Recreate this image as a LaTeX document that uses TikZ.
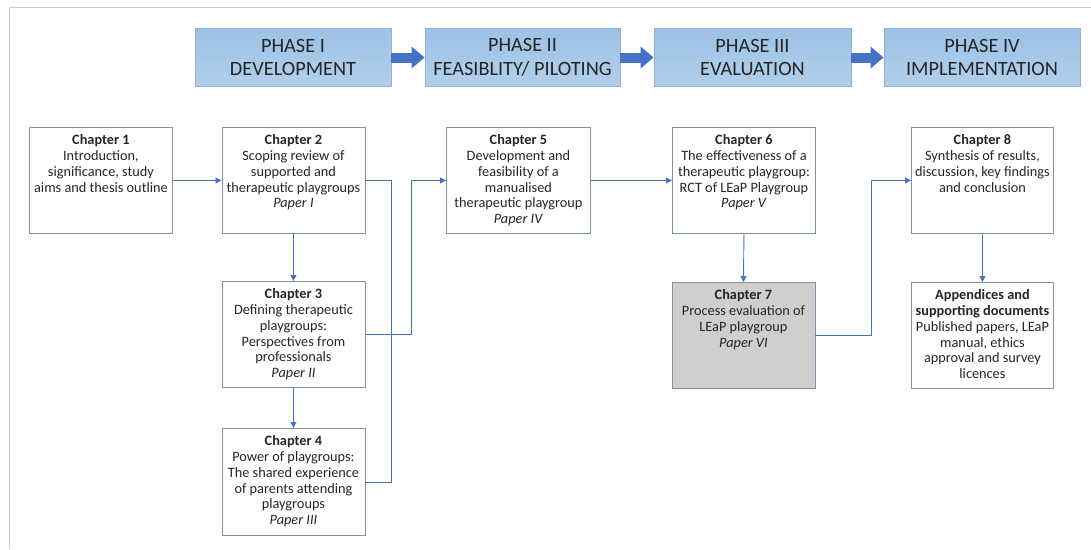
\documentclass[tikz,border=0pt]{standalone}
\usepackage{fontspec}
\setmainfont{Carlito}
\usetikzlibrary{arrows.meta}
\definecolor{phasetop}{HTML}{9CC2E5}
\definecolor{phasebot}{HTML}{B2CFEB}
\definecolor{phaseedge}{HTML}{8FB2D9}
\definecolor{blockarrow}{HTML}{4472C4}
\definecolor{chapedge}{HTML}{8291A8}
\definecolor{linkblue}{HTML}{4A74B8}
\definecolor{shadegray}{HTML}{D0CECE}
\definecolor{framegray}{HTML}{CACACA}
\definecolor{inktext}{HTML}{262626}
% chapter box body: fixed size, text hung from the top edge
\newcommand{\chaptext}[3]{\parbox[c][#2pt][t]{#1pt}{\centering\rule{0pt}{17.5pt}#3}}
\begin{document}
\begin{tikzpicture}[x=1pt,y=-1pt,
  phase/.style={draw=phaseedge, line width=0.8pt, top color=phasetop, bottom color=phasebot,
    minimum height=58pt, inner sep=0pt, align=center, text=inktext,
    font=\fontsize{20.3}{23.5}\selectfont},
  chapbox/.style={draw=chapedge, line width=0.9pt, fill=white, inner sep=0pt, anchor=north west,
    text=inktext, font=\fontsize{14.3}{15.75}\selectfont},
  blockarr/.style={draw=blockarrow, line width=10pt, -{Triangle[length=13pt,width=21pt]}},
  conn/.style={draw=linkblue, line width=0.9pt},
  tipped/.style={conn, -{Triangle[length=6pt,width=6pt]}}]
\useasboundingbox (0,0) rectangle (1091,549);
% page frame
\draw[framegray, line width=1.5pt] (1091,7.5) -- (9.5,7.5) -- (9.5,549);

% phase banner
\node[phase, minimum width=196pt] (p1) at (293,57.5) {PHASE I\\DEVELOPMENT};
\node[phase, minimum width=195pt] (p2) at (522.5,57.5) {PHASE II\\FEASIBLITY/ PILOTING};
\node[phase, minimum width=197pt] (p3) at (752.5,57.5) {PHASE III\\EVALUATION};
\node[phase, minimum width=196pt] (p4) at (982,57.5) {PHASE IV\\IMPLEMENTATION};
\draw[blockarr] (p1.east) -- (p2.west);
\draw[blockarr] (p2.east) -- (p3.west);
\draw[blockarr] (p3.east) -- (p4.west);

% chapters
\node[chapbox] (c1) at (29,127) {\chaptext{143}{106}{\textbf{Chapter 1}\\Introduction,\\significance, study\\aims and thesis outline}};
\node[chapbox] (c2) at (221.5,127) {\chaptext{143}{106}{\textbf{Chapter 2}\\Scoping review of\\supported and\\therapeutic playgroups\\\textit{Paper I}}};
\node[chapbox] (c3) at (221.5,281) {\chaptext{143}{106}{\textbf{Chapter 3}\\Defining therapeutic\\playgroups:\\Perspectives from\\professionals\\\textit{Paper II}}};
\node[chapbox] (c4) at (221.5,428) {\chaptext{143}{107}{\textbf{Chapter 4}\\Power of playgroups:\\The shared experience\\of parents attending\\playgroups\\\textit{Paper III}}};
\node[chapbox] (c5) at (446,127) {\chaptext{144}{106}{\textbf{Chapter 5}\\Development and\\feasibility of a\\manualised\\therapeutic playgroup\\\textit{Paper IV}}};
\node[chapbox] (c6) at (672,127) {\chaptext{143}{106}{\textbf{Chapter 6}\\The effectiveness of a\\therapeutic playgroup:\\RCT of LEaP Playgroup\\\textit{Paper V}}};
\node[chapbox, fill=shadegray] (c7) at (671.5,282) {\chaptext{143}{106}{\textbf{Chapter 7}\\Process evaluation of\\LEaP playgroup\\\textit{Paper VI}}};
\node[chapbox] (c8) at (911,127) {\chaptext{142}{106}{\textbf{Chapter 8}\\Synthesis of results,\\discussion, key findings\\and conclusion}};
\node[chapbox] (ap) at (911,282) {\chaptext{142}{106}{\textbf{Appendices and}\\\textbf{supporting documents}\\Published papers, LEaP\\manual, ethics\\approval and survey\\licences}};

% links
\draw[tipped] (c1.east) -- (c2.west);
\draw[tipped] (c2.south) -- (c3.north);
\draw[tipped] (c3.south) -- (c4.north);
\draw[conn] (c2.east) -- ++(26,0) |- (c4.east);
\draw[tipped] (c3.east) -- ++(46,0) |- (c5.west);
\draw[tipped] (c5.east) -- (c6.west);
\draw[tipped] (c6.south) -- (c7.north);
\draw[tipped] (c7.east) -- ++(56,0) |- (c8.west);
\draw[tipped] (c8.south) -- (ap.north);
\end{tikzpicture}
\end{document}
